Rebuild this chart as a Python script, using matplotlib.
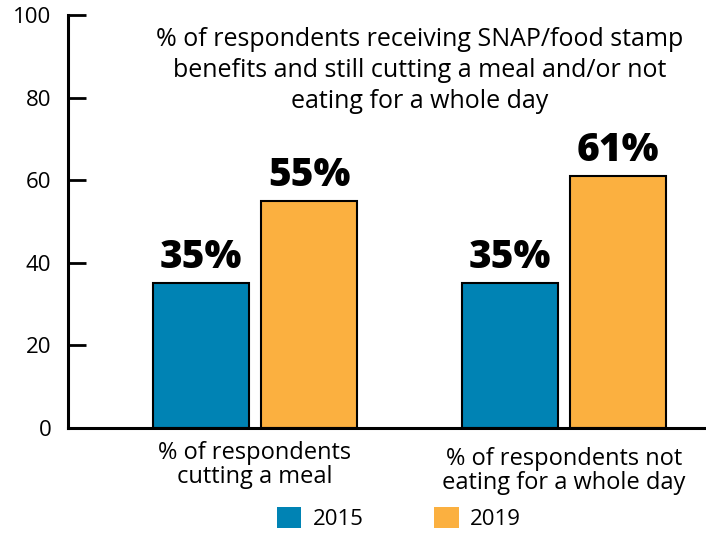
import matplotlib.pyplot as plt
from matplotlib.patches import Patch

categories = ["% of respondents\ncutting a meal",
              "% of respondents not\neating for a whole day"]
years = ["2015", "2019"]
values_2015 = [35, 35]
values_2019 = [55, 61]
colors = ["#0083b4", "#fbb040"]
title = ("% of respondents receiving SNAP/food stamp\n"
         "benefits and still cutting a meal and/or not\n"
         "eating for a whole day")

plt.rcParams['font.family'] = ['Open Sans', 'DejaVu Sans']

fig = plt.figure(figsize=(7.06, 5.35), dpi=100)
ax = fig.add_axes([0.0963, 0.2, 0.9037, 0.772])

width = 0.31
offset = 0.175
x = range(len(categories))
for vals, col, sign in [(values_2015, colors[0], -1), (values_2019, colors[1], 1)]:
    xs = [i + sign * offset for i in x]
    ax.bar(xs, vals, width=width, color=col, edgecolor='black', linewidth=1.5, zorder=2)
    for xi, v in zip(xs, vals):
        ax.text(xi, v + 1.5, f"{v}%", ha='center', va='bottom',
                fontsize=28, fontweight='heavy', color='black')

ax.set_xlim(-0.605, 1.46)
ax.set_ylim(0, 100)
ax.set_yticks(range(0, 101, 20))
ax.tick_params(axis='y', direction='in', length=13, width=2, labelsize=16, pad=12)
ax.set_xticks([])
for s in ['top', 'right']:
    ax.spines[s].set_visible(False)
ax.spines['left'].set_linewidth(2.2)
ax.spines['bottom'].set_linewidth(2.2)

# category labels under each group
for i, lab in enumerate(categories):
    ax.text(i, -3.2 - 1.5 * i, lab, ha='center', va='top', fontsize=17,
            linespacing=1.0, clip_on=False)

ax.text(0.534, 97.0, title, ha='center', va='top', fontsize=18,
        linespacing=1.3)

handles = [Patch(facecolor=c, edgecolor='none') for c in colors]
fig.legend(handles, years, loc='lower center', bbox_to_anchor=(0.565, -0.028),
           ncol=2, frameon=False, fontsize=16, handlelength=1.1, handleheight=1.1,
           columnspacing=3.2, handletextpad=0.5)

fig.savefig("out.png", dpi=100)
